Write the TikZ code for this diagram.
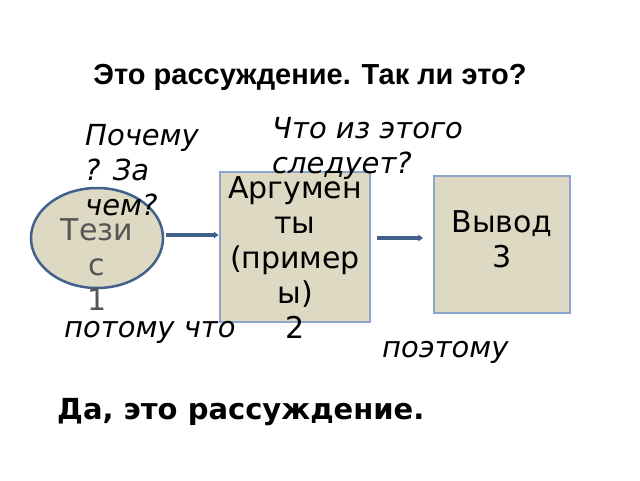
\documentclass[tikz,border=0pt]{standalone}
\usepackage{fontspec}
\usetikzlibrary{shapes.geometric,calc,arrows.meta}
\setmainfont{DejaVu Sans}
\newfontfamily\lib{Liberation Sans}
\begin{document}
\begin{tikzpicture}[x=1pt,y=-1pt,
  box/.style={draw={rgb,255:red,140;green,165;blue,205}, line width=2.5pt, fill={rgb,255:red,221;green,217;blue,195}},
  arr/.style={draw={rgb,255:red,65;green,96;blue,140}, line width=3.5pt, -{Latex[length=5pt,width=8pt]}},
  t/.style={inner sep=0pt, font=\fontsize{30}{35}\selectfont, align=center},
  it/.style={inner sep=0pt, font=\fontsize{29}{35}\selectfont\itshape, align=left}]
\useasboundingbox (0,0) rectangle (640,480);
\node[font=\lib\fontsize{29}{32}\selectfont\bfseries, inner sep=0pt] (title) at (310,77) {Это рассуждение. Так ли это?};
\node[ellipse, draw={rgb,255:red,65;green,96;blue,140}, line width=2.5pt, fill={rgb,255:red,221;green,217;blue,195}, minimum width=132pt, minimum height=100pt] (tez) at (97,238) {};
\node[box, minimum width=150pt, minimum height=150pt] (arg) at (295,247) {};
\node[box, minimum width=136pt, minimum height=137pt] (vyv) at (502,244.5) {};
\draw[arr] ($(tez.east)+(2,-3)$) coordinate (a1) -- (a1 -| arg.west);
\draw[arr] ($(arg.east)+(6,-9)$) coordinate (a2) -- ($(a2)+(46,0)$);
\node[t, text={rgb,255:red,85;green,85;blue,85}, anchor=north] (tt) at (97,218) {Тези\\с\\1};
\node[t, anchor=north] (at) at (295,176) {Аргумен\\ты\\(пример\\ы)\\2};
\node[t, anchor=north] (vt) at (502,210) {Вывод\\3};
\node[it, anchor=north west] (q1) at (85,124) {Почему\\? За\\чем?};
\node[it, anchor=north west] (q2) at (272,117) {Что из этого\\следует?};
\node[it, anchor=north west] (p1) at (64,321) {потому что};
\node[it, anchor=north west] (p2) at (382,341) {поэтому};
\node[inner sep=0pt, anchor=west, font=\fontsize{29}{32}\selectfont\bfseries] (da) at (57,412) {Да, это рассуждение.};
\end{tikzpicture}
\end{document}
